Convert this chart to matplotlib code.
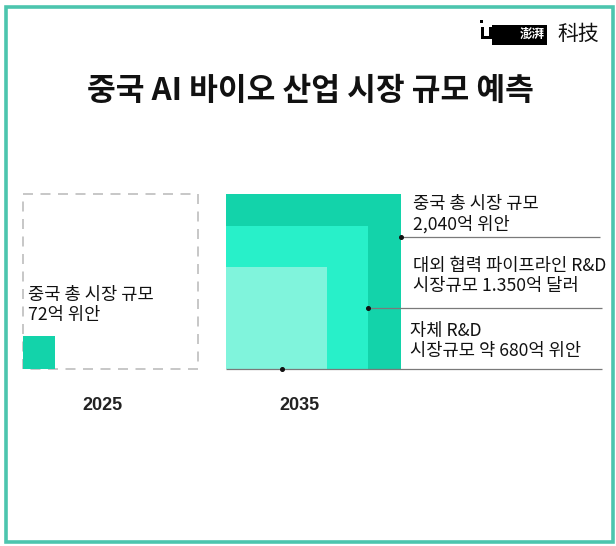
import matplotlib
matplotlib.use("Agg")
import matplotlib.pyplot as plt
from matplotlib.patches import Rectangle
import numpy as np

# ---- data ----
title = "중국 AI 바이오 산업 시장 규모 예측"
years = ["2025", "2035"]
total_2025 = 72          # 억 위안
values_2035 = [2040, 1350, 680]   # total, external pipeline R&D, in-house R&D
labels_2035 = ["중국 총 시장 규모\n2,040억 위안",
               "대외 협력 파이프라인 R&D\n시장규모 1.350억 달러",
               "자체 R&D\n시장규모 약 680억 위안"]
label_2025 = "중국 총 시장 규모\n72억 위안"
colors_2035 = ["#13D3AA", "#28F0C9", "#80F4DC"]
color_2025 = "#13D3AA"

KR = ["Noto Sans CJK KR", "DejaVu Sans"]
plt.rcParams['font.family'] = KR

W, H = 616, 546
fig = plt.figure(figsize=(W / 100, H / 100), dpi=100)
ax = fig.add_axes([0, 0, 1, 1])
ax.set_xlim(0, W)
ax.set_ylim(H, 0)
ax.axis("off")

# outer frame
ax.add_patch(Rectangle((6, 6.5), 606.5, 535, fill=False, edgecolor="#4CC5AE", lw=2.6))

# scale: side length proportional to sqrt(value)
full_side = 175.0
k = full_side / np.sqrt(values_2035[0])
base_y = 368.5
x2025 = 22.5
x2035 = 226.0

# 2025 reference dashed frame (same size as 2035 total)
ax.add_patch(Rectangle((x2025, base_y - full_side), full_side, full_side, fill=False,
                       edgecolor="#BDBDBD", lw=1.2, ls=(0, (6, 4.5))))
s25 = k * np.sqrt(total_2025)
ax.add_patch(Rectangle((x2025, base_y - s25), s25, s25, facecolor=color_2025, lw=0))
ax.text(x2025 + 5.5, 305, label_2025, fontsize=12.7, va="center", ha="left",
        linespacing=1.15, color="#111111")

# 2035 nested squares
sides = [k * np.sqrt(v) for v in values_2035]
for s, c in zip(sides, colors_2035):
    ax.add_patch(Rectangle((x2035, base_y - s), s, s, facecolor=c, lw=0))

# leader lines + dots
line_y = [237, 308, base_y]
dot_x = [x2035 + sides[0], x2035 + sides[1], x2035 + sides[2] * 0.55]
line_start = [x2035 + sides[0], x2035 + sides[1], x2035]
line_end = [600, 602, 602]
for ly, dx, ls_, le in zip(line_y, dot_x, line_start, line_end):
    ax.plot([ls_, le], [ly, ly], color="#7A7A7A", lw=0.9, solid_capstyle="butt")
    ax.plot(dx, ly, "o", color="#111111", ms=2.6)

text_y = [214, 276, 341]
text_x = [413, 413, 410]
for tx, ty, lab in zip(text_x, text_y, labels_2035):
    ax.text(tx, ty, lab, fontsize=12.7, va="center", ha="left", linespacing=1.15,
            color="#111111")

# year labels
for xc, yr in zip([102, 299], years):
    ax.text(xc, 405, yr, fontsize=13, fontweight="bold", ha="center", va="center",
            family=["Liberation Sans", "DejaVu Sans"], color="#222222")

# title
ax.text(310, 91, title, fontsize=22.5, fontweight="bold", ha="center", va="center",
        color="#111111")

# logo
ax.add_patch(Rectangle((480, 20), 3, 3, facecolor="black", lw=0))
ax.add_patch(Rectangle((481, 27), 2.5, 12, facecolor="black", lw=0))
ax.add_patch(Rectangle((481, 36), 9, 3, facecolor="black", lw=0))
ax.add_patch(Rectangle((489, 27), 2.5, 12, facecolor="black", lw=0))
ax.add_patch(Rectangle((492, 25), 55, 20, facecolor="black", lw=0))
ax.text(532, 34, "澎湃", fontsize=9, color="white", ha="center", va="center",
        family=["Noto Sans CJK SC", "DejaVu Sans"], fontweight="bold")
ax.text(578, 34, "科技", fontsize=15, color="#111111", ha="center", va="center",
        family=["Noto Sans CJK SC", "DejaVu Sans"])

fig.savefig("out.png", dpi=100, facecolor="white")
